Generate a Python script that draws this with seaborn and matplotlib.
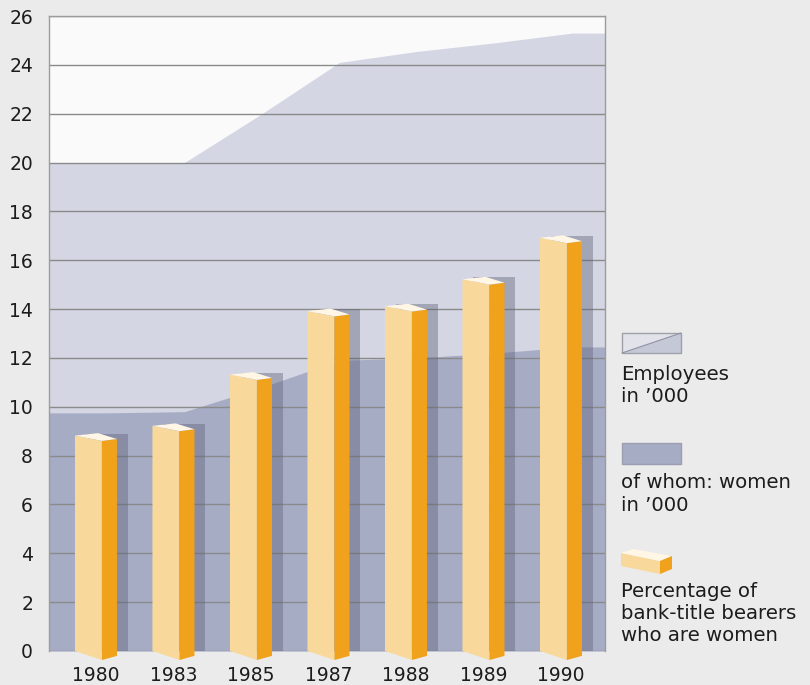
import numpy as np
import pandas as pd
import matplotlib
matplotlib.use("Agg")
import matplotlib.pyplot as plt
from matplotlib.patches import Polygon, Rectangle
import seaborn as sns

# ---- data -------------------------------------------------------------
years = ["1980", "1983", "1985", "1987", "1988", "1989", "1990"]
employees = [20.0, 20.0, 22.0, 24.1, 24.55, 24.9, 25.3]       # employees in '000
women = [9.75, 9.8, 10.8, 11.9, 12.0, 12.2, 12.45]             # of whom: women in '000
pct_women_titles = [8.9, 9.3, 11.4, 14.0, 14.2, 15.3, 17.0]    # % of bank-title bearers who are women
y_ticks = list(range(0, 27, 2))

# ---- style ------------------------------------------------------------
sns.set_theme(style="white")
plt.rcParams["font.family"] = ["DejaVu Sans"]

FIG_BG = "#ebebeb"
PLOT_BG = "#fafafa"
EMP_C = "#d4d6e3"
WOM_C = "#a7acc5"
GRID_C = "#8a8a8a"
SHADOW_C = "#5f6277"
FACE_C = "#f9d99b"
SIDE_C = "#f0a21c"
TOP_C = "#fff6e6"
TEXT_C = "#1c1c1c"

fig = plt.figure(figsize=(8.10, 6.85), dpi=100, facecolor=FIG_BG)
ax = fig.add_axes([49 / 810, 1 - 651 / 685, (605 - 49) / 810, (651 - 16) / 685])
ax.set_facecolor(PLOT_BG)

df = pd.DataFrame({"year": years, "pct": pct_women_titles})
pos = np.arange(len(years), dtype=float)
x_min, x_max = -0.748, 6.426

# background areas (employees / women), carried out to the frame edges
xs = np.r_[x_min, pos, x_max]
ax.fill_between(xs, 0, np.r_[employees[0], employees, employees[-1]],
                color=EMP_C, lw=0, zorder=1)
ax.fill_between(xs, 0, np.r_[women[0], women, women[-1]],
                color=WOM_C, lw=0, zorder=1.1)

# drop shadows behind the columns
sns.barplot(data=df, x="year", y="pct", color=SHADOW_C, width=0.542,
            errorbar=None, saturation=1, alpha=0.42, ax=ax, zorder=2,
            linewidth=0)

# pseudo-3D columns: front face, side face and lit top
fx0, fx1, fx2 = -0.413, -0.065, 0.129
for p, v in zip(pos, pct_women_titles):
    xl, xm, xr = p + fx0, p + fx1, p + fx2
    front = [(xl, 0.0), (xm, -0.37), (xm, v - 0.30), (xl, v - 0.08)]
    side = [(xm, -0.37), (xr, -0.20), (xr, v - 0.22), (xm, v - 0.30)]
    top = [(xl, v - 0.08), (xm, v - 0.30), (xr, v - 0.22), (xm - 0.05, v + 0.02)]
    ax.add_patch(Polygon(front, closed=True, fc=FACE_C, ec="none", zorder=3, clip_on=False))
    ax.add_patch(Polygon(side, closed=True, fc=SIDE_C, ec="none", zorder=3, clip_on=False))
    ax.add_patch(Polygon(top, closed=True, fc=TOP_C, ec="none", zorder=3, clip_on=False))

# axes, grid and ticks
ax.set_xlim(x_min, x_max)
ax.set_ylim(0, 26)
ax.set_yticks(y_ticks)
ax.set_yticklabels([str(t) for t in y_ticks])
ax.set_xticks(pos + (fx0 + fx2) / 2)
ax.set_xticklabels(years)
ax.set_xlabel("")
ax.set_ylabel("")
ax.set_axisbelow("line")
ax.yaxis.grid(True, color=GRID_C, lw=1.0)
ax.xaxis.grid(False)
ax.tick_params(axis="both", length=0, labelsize=13.5, colors=TEXT_C)
ax.tick_params(axis="y", pad=11.5)
ax.tick_params(axis="x", pad=11)
for side_name in ["left", "top", "right"]:
    ax.spines[side_name].set_color("#9a9c9f")
    ax.spines[side_name].set_linewidth(1.0)
ax.spines["bottom"].set_visible(False)

# ---- legend (figure-pixel overlay) -----------------------------------
lg = fig.add_axes([0, 0, 1, 1], facecolor="none")
lg.set_xlim(0, 810)
lg.set_ylim(685, 0)
lg.axis("off")

# employees swatch: split diagonally
lg.add_patch(Polygon([(622, 353), (622, 333), (681, 333)], closed=True,
                     fc="#e2e3ea", ec="none"))
lg.add_patch(Polygon([(622, 353), (681, 333), (681, 353)], closed=True,
                     fc="#c5c8d7", ec="none"))
lg.plot([622, 681], [353, 333], color="#8f92a3", lw=0.8)
lg.add_patch(Rectangle((622, 333), 59, 20, fc="none", ec="#9fa1aa", lw=1))

# women swatch
lg.add_patch(Rectangle((622, 443), 59, 21, fc=WOM_C, ec="#9a9eb0", lw=1))

# column swatch
lg.add_patch(Polygon([(621, 553), (660, 561), (660, 574), (621, 566)], closed=True,
                     fc=FACE_C, ec="none"))
lg.add_patch(Polygon([(621, 553), (633, 549), (672, 556), (660, 561)], closed=True,
                     fc=TOP_C, ec="none"))
lg.add_patch(Polygon([(660, 561), (672, 556), (672, 569), (660, 574)], closed=True,
                     fc=SIDE_C, ec="none"))

legend_texts = [
    (380, "Employees"), (402, "in \u2019000"),
    (488, "of whom: women"), (511, "in \u2019000"),
    (597, "Percentage of"), (619, "bank-title bearers"), (641, "who are women"),
]
for yb, txt in legend_texts:
    lg.text(621, yb, txt, fontsize=14.2, color=TEXT_C, va="baseline", ha="left")

fig.savefig("out.png", dpi=100, facecolor=FIG_BG)
